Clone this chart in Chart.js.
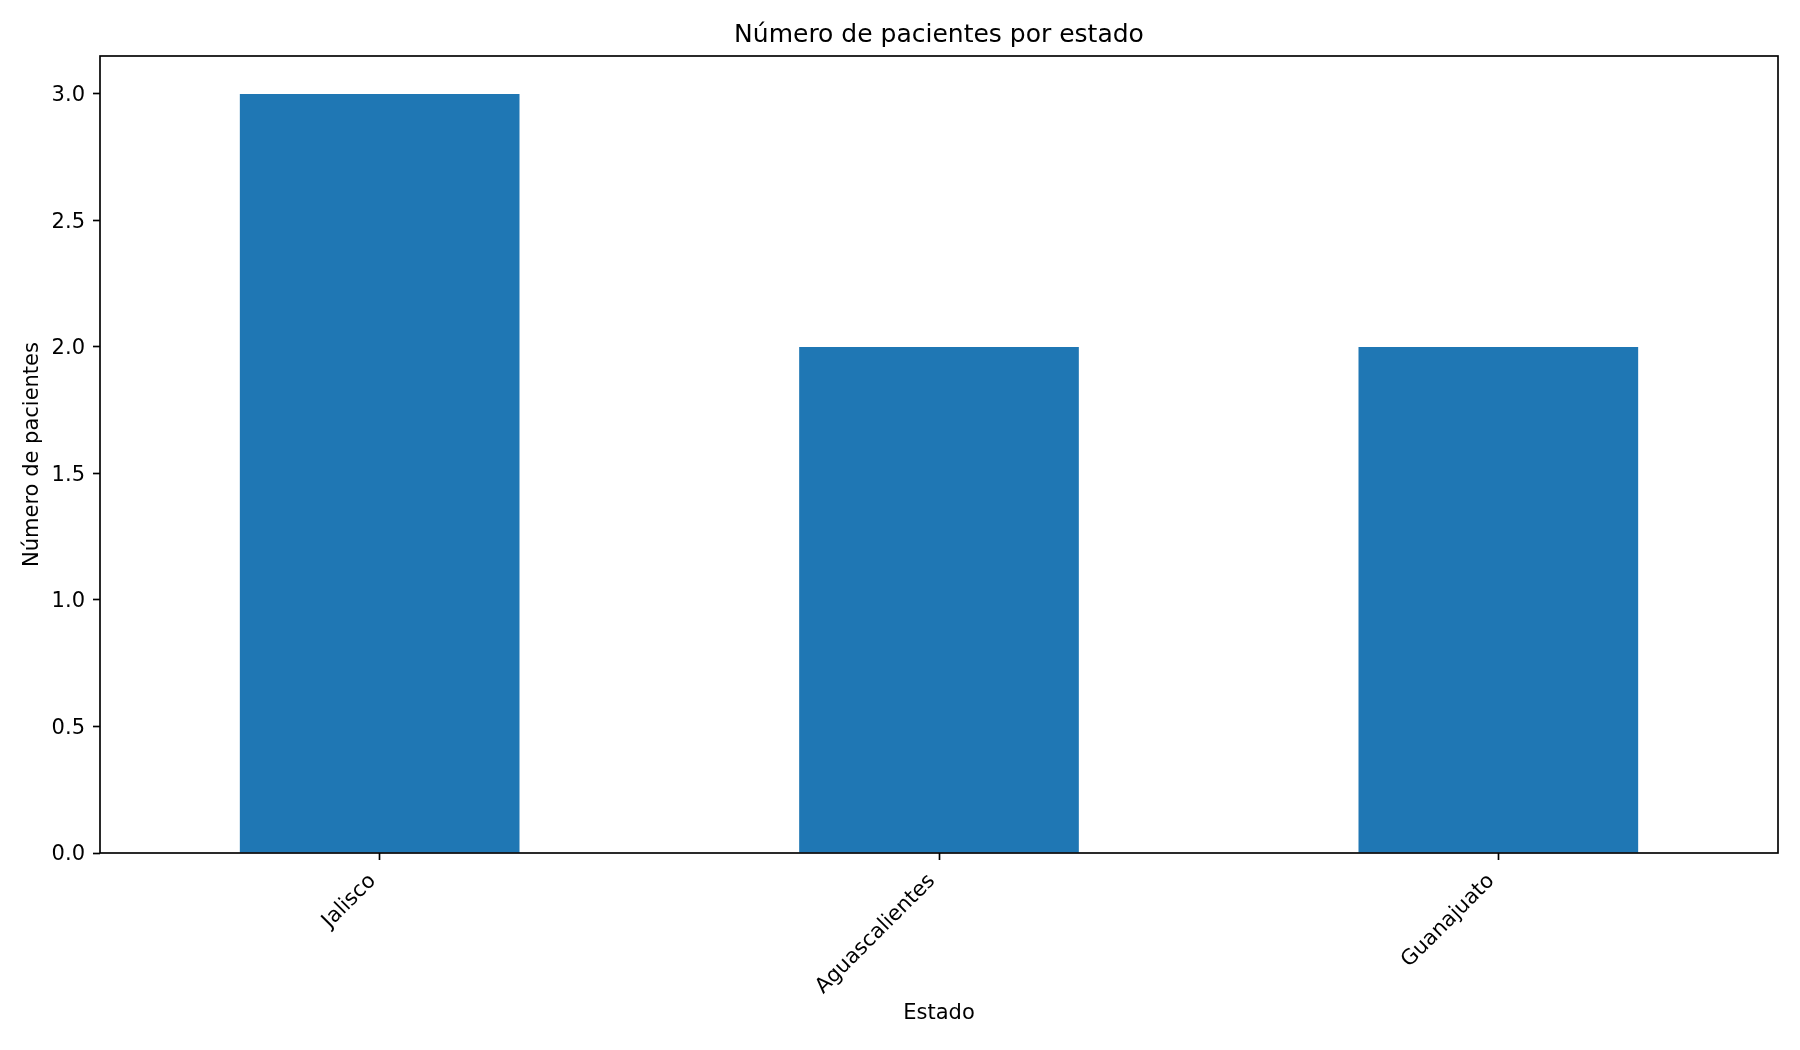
<!DOCTYPE html>
<html>
<head>
<meta charset="utf-8">
<script src="https://cdn.jsdelivr.net/npm/chart.js@4.4.0/dist/chart.umd.min.js"></script>
<style>
  html, body { margin: 0; padding: 0; background: #ffffff; }
  #wrap { width: 1800px; height: 1050px; }
</style>
</head>
<body>
<div id="wrap"><canvas id="c" width="1800" height="1050"></canvas></div>
<script>
const categories = ['Jalisco', 'Aguascalientes', 'Guanajuato'];
const patientCounts = [3, 2, 2];
const yTickValues = [0, 0.5, 1.0, 1.5, 2.0, 2.5, 3.0];

const chartTitle = 'Número de pacientes por estado';
const xAxisTitle = 'Estado';
const yAxisTitle = 'Número de pacientes';

const FONT = "'DejaVu Sans', sans-serif";

const frame = {
  id: 'frame',
  afterDatasetsDraw(chart) {
    const a = chart.chartArea;
    const ctx = chart.ctx;
    ctx.save();
    ctx.strokeStyle = '#000000';
    ctx.lineWidth = 1.67;
    ctx.strokeRect(a.left, a.top, a.right - a.left, a.bottom - a.top);
    ctx.restore();
  }
};

// Title centred over the plot area (as in the reference)
const axesTitle = {
  id: 'axesTitle',
  afterDraw(chart) {
    const a = chart.chartArea;
    const ctx = chart.ctx;
    ctx.save();
    ctx.fillStyle = '#000000';
    ctx.font = "25px 'DejaVu Sans', sans-serif";
    ctx.textAlign = 'center';
    ctx.textBaseline = 'middle';
    ctx.fillText(chartTitle, (a.left + a.right) / 2, 35);
    ctx.restore();
  }
};

new Chart(document.getElementById('c'), {
  type: 'bar',
  data: {
    labels: categories,
    datasets: [{
      data: patientCounts,
      backgroundColor: '#1f77b4',
      borderWidth: 0,
      categoryPercentage: 1.0,
      barPercentage: 0.5
    }]
  },
  options: {
    responsive: false,
    devicePixelRatio: 1,
    animation: false,
    layout: { padding: { left: 0, right: 22, top: 56, bottom: 0 } },
    plugins: {
      legend: { display: false },
      tooltip: { enabled: false },
      title: { display: false }
    },
    scales: {
      x: {
        type: 'category',
        offset: true,
        afterFit(scale) { scale.height = 197; },
        grid: {
          display: true,
          offset: false,
          drawOnChartArea: false,
          drawTicks: true,
          tickLength: 7,
          tickWidth: 1.67,
          tickColor: '#000000'
        },
        border: { display: false },
        ticks: {
          color: '#000000',
          font: { family: FONT, size: 21 },
          minRotation: 45,
          maxRotation: 45,
          padding: 9,
          labelOffset: -7,
          autoSkip: false
        },
        title: {
          display: true,
          text: xAxisTitle,
          color: '#000000',
          font: { family: FONT, size: 21, lineHeight: 1.2 },
          padding: { top: 0, bottom: 24 }
        }
      },
      y: {
        type: 'linear',
        min: 0,
        max: 3.15,
        afterFit(scale) { scale.width = 100; },
        afterBuildTicks(scale) {
          scale.ticks = yTickValues.map(v => ({ value: v }));
        },
        grid: {
          display: true,
          drawOnChartArea: false,
          drawTicks: true,
          tickLength: 7,
          tickWidth: 1.67,
          tickColor: '#000000'
        },
        border: { display: false },
        ticks: {
          color: '#000000',
          font: { family: FONT, size: 21 },
          padding: 8,
          labelOffset: 2,
          includeBounds: false,
          callback: (v) => Number(v).toFixed(1)
        },
        title: {
          display: true,
          text: yAxisTitle,
          color: '#000000',
          font: { family: FONT, size: 21, lineHeight: 1.2 },
          padding: { top: 20, bottom: 0 }
        }
      }
    }
  },
  plugins: [frame, axesTitle]
});
</script>
</body>
</html>
